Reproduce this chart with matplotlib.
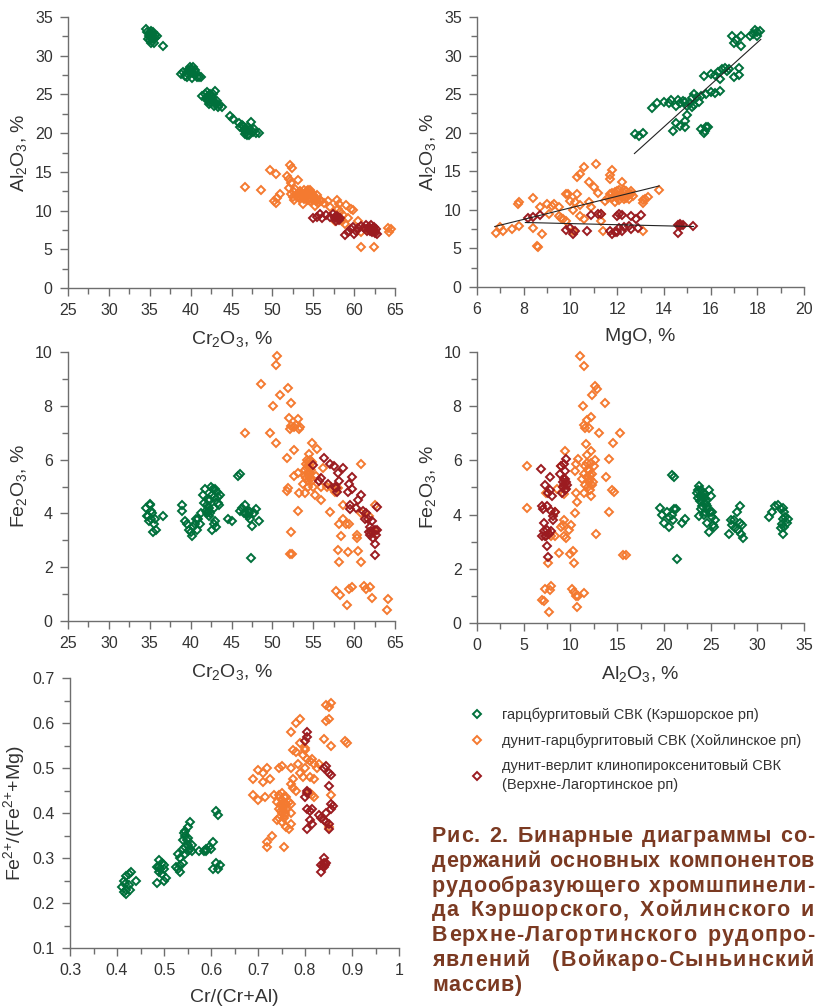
import matplotlib
matplotlib.use('Agg')
import matplotlib.pyplot as plt
from matplotlib.ticker import MultipleLocator, FuncFormatter

plt.rcParams['font.family'] = ['Liberation Sans', 'DejaVu Sans']
plt.rcParams['mathtext.fontset'] = 'custom'
plt.rcParams['mathtext.rm'] = 'Liberation Sans'
plt.rcParams['mathtext.it'] = 'Liberation Sans:italic'
plt.rcParams['mathtext.bf'] = 'Liberation Sans:bold'
plt.rcParams['mathtext.default'] = 'regular'

GREEN = '#00703b'
ORANGE = '#f47a30'
RED = '#9b1b20'
TXT = '#333333'
AX = '#6e6e6e'
CAP = '#7b3a22'

# ---- panel 1: Cr2O3 vs Al2O3 ----
cr_al_green = [(34.5, 33.4), (34.7, 33.0), (34.9, 32.6), (35.0, 32.9), (35.1, 33.2), (35.2, 32.4),
               (35.3, 32.8), (35.4, 32.1), (35.0, 32.0), (35.2, 31.7), (35.5, 31.6), (35.6, 32.3),
               (35.7, 32.7), (35.9, 32.5), (34.8, 32.2), (35.4, 33.1), (36.6, 31.2), (35.1, 32.6),
               (38.8, 27.7), (39.1, 27.9), (39.3, 27.4), (39.5, 27.8), (39.7, 28.2), (39.9, 28.5),
               (40.0, 27.9), (40.1, 28.3), (40.2, 27.1), (40.4, 27.6), (40.5, 28.1), (40.7, 27.8),
               (40.8, 27.3), (41.0, 27.2), (41.3, 27.2), (39.6, 27.2), (40.3, 28.5), (40.0, 28.2),
               (41.4, 24.8), (41.7, 25.0), (41.9, 24.6), (42.0, 25.3), (42.1, 24.2), (42.3, 24.9),
               (42.4, 24.4), (42.5, 23.9), (42.6, 24.7), (42.8, 23.5), (42.9, 24.2), (43.0, 25.4),
               (43.1, 23.7), (43.3, 23.4), (43.5, 23.6), (43.8, 23.4), (42.2, 23.8), (42.7, 25.1),
               (43.2, 24.1), (42.0, 24.5), (42.4, 25.0), (42.6, 24.1), (44.8, 22.2), (45.2, 21.8),
               (45.9, 21.3), (46.1, 20.8), (46.3, 21.0), (46.5, 20.4), (46.6, 19.9), (46.8, 20.2),
               (46.9, 19.7), (47.0, 20.8), (47.2, 20.4), (47.4, 21.4), (47.6, 20.1), (47.8, 20.5),
               (48.0, 20.0), (48.4, 20.0), (46.4, 20.9), (47.1, 19.8), (46.7, 20.6)]
cr_al_orange = [(46.7, 13.1), (48.6, 12.6), (49.7, 15.2), (50.4, 14.7), (50.2, 11.3), (50.5, 11.0),
                (50.9, 12.2), (50.6, 11.6), (51.8, 14.5), (52.0, 14.1), (52.1, 15.9), (52.4, 15.5),
                (52.3, 13.6), (53.1, 14.0), (52.0, 12.9), (52.3, 12.2), (52.5, 11.7), (52.6, 12.4),
                (52.9, 11.9), (53.1, 12.3), (53.3, 11.6), (53.5, 12.0), (53.7, 10.8), (53.8, 11.8),
                (54.0, 12.1), (54.2, 12.5), (54.4, 12.2), (54.5, 11.6), (54.7, 12.0), (54.9, 11.5),
                (55.1, 11.8), (55.3, 11.2), (55.2, 10.6), (55.6, 11.0), (55.8, 11.4), (56.0, 11.2),
                (56.3, 11.0), (54.3, 11.4), (53.9, 12.6), (54.6, 12.6), (55.4, 12.0), (52.7, 11.4),
                (53.6, 12.3), (54.1, 11.9), (54.4, 12.6), (54.8, 12.3), (55.0, 12.0), (53.4, 12.5),
                (53.9, 11.5), (54.6, 11.2), (55.5, 11.5), (52.8, 12.8), (53.2, 11.9), (54.2, 11.7),
                (57.0, 10.5), (57.9, 11.4), (58.0, 10.2), (58.3, 9.8), (58.5, 8.6), (58.7, 9.4),
                (59.0, 10.7), (59.3, 9.0), (59.6, 10.2), (59.9, 10.1), (58.2, 10.8), (60.5, 8.6),
                (60.9, 7.2), (61.5, 7.6), (60.9, 5.3), (62.4, 5.3), (64.2, 7.7), (64.5, 7.6),
                (64.3, 7.2), (57.6, 8.6), (58.9, 8.3), (56.8, 11.2)]
cr_al_red = [(55.0, 9.0), (55.5, 9.2), (55.8, 9.5), (56.1, 9.0), (56.6, 9.4), (57.0, 9.2),
             (57.4, 9.5), (57.7, 9.0), (57.9, 9.3), (58.1, 8.8), (57.8, 8.7), (58.3, 9.1),
             (57.6, 9.2), (58.0, 9.0), (58.9, 6.8), (59.3, 7.2), (59.6, 7.6), (59.9, 7.9),
             (60.2, 7.4), (60.5, 7.8), (60.9, 8.0), (61.2, 7.7), (61.5, 8.2), (61.8, 7.9),
             (62.0, 7.6), (62.2, 7.2), (62.4, 7.9), (62.6, 7.4), (62.8, 7.0), (62.7, 7.6),
             (61.6, 7.3), (62.1, 8.1), (60.0, 7.0), (61.9, 7.4), (62.3, 7.7), (62.5, 7.1)]

# ---- panel 2: MgO vs Al2O3 ----
mg_al_green = [(12.75, 19.8), (12.95, 19.6), (13.1, 20.0), (13.5, 23.2), (13.7, 23.8), (14.0, 24.0),
               (14.2, 23.8), (14.3, 24.2), (14.5, 23.5), (14.6, 24.3), (14.7, 23.9), (14.8, 24.1),
               (15.0, 23.5), (15.1, 23.8), (15.2, 24.5), (15.3, 25.0), (15.5, 24.0), (15.6, 24.8),
               (15.8, 25.0), (16.0, 25.3), (16.2, 25.2), (16.4, 25.4), (15.7, 27.3), (16.0, 27.6),
               (16.2, 27.5), (16.3, 27.9), (16.5, 28.3), (16.7, 28.0), (16.8, 28.2), (16.4, 27.0),
               (17.0, 27.2), (17.2, 28.4), (17.2, 27.5), (16.9, 32.5), (17.0, 31.6), (17.1, 32.0),
               (17.3, 32.6), (17.3, 31.3), (17.8, 32.8), (17.9, 33.3), (18.0, 33.0), (18.1, 33.2),
               (17.7, 32.6), (18.0, 32.5), (14.5, 21.3), (14.7, 20.9), (14.9, 21.5), (15.0, 22.3),
               (14.9, 20.8), (14.4, 20.2), (15.6, 20.5), (15.7, 19.9), (15.8, 20.7), (15.75, 20.2),
               (15.9, 20.8), (15.2, 23.3), (15.3, 23.6), (14.9, 24.0), (15.4, 24.6), (16.6, 28.4)]
mg_al_orange = [(6.8, 7.0), (7.0, 7.8), (7.1, 7.3), (7.5, 7.5), (7.8, 7.9), (7.75, 10.7), (7.8, 11.0),
                (8.4, 11.5), (8.4, 7.7), (8.6, 5.2), (8.55, 5.3), (8.8, 6.9), (8.7, 10.4), (9.0, 10.8),
                (9.1, 9.4), (9.2, 10.5), (9.3, 10.7), (9.5, 10.4), (9.5, 9.2), (9.6, 9.0), (9.7, 8.8),
                (9.8, 8.5), (9.8, 12.1), (9.9, 12.0), (10.0, 11.2), (10.1, 10.0), (10.2, 11.0),
                (10.3, 12.1), (10.3, 14.3), (10.4, 14.6), (10.6, 15.5), (10.4, 9.2), (10.6, 8.8),
                (10.8, 11.0), (10.9, 10.4), (10.8, 13.6), (11.0, 13.0), (11.1, 15.9), (11.2, 12.2),
                (11.3, 9.4), (11.3, 8.6), (11.4, 7.3), (11.5, 11.1), (11.6, 11.5), (11.7, 14.0),
                (11.8, 15.2), (11.7, 14.5), (12.2, 13.6), (11.7, 12.0), (11.8, 11.6), (11.9, 12.3),
                (12.0, 11.8), (12.0, 12.5), (12.1, 11.3), (12.2, 12.0), (12.3, 12.2), (12.4, 11.6),
                (12.5, 12.0), (12.6, 12.1), (12.7, 11.8), (12.3, 11.4), (11.9, 11.0), (12.1, 12.6),
                (12.4, 12.4), (11.8, 12.2), (12.0, 11.5), (12.2, 11.7), (12.5, 11.4), (12.6, 12.4),
                (12.3, 12.6), (13.1, 11.3), (13.1, 10.9), (13.2, 11.4), (13.3, 11.7), (13.1, 7.2),
                (13.8, 12.6), (10.1, 7.2), (10.4, 10.6)]
mg_al_red = [(8.2, 8.9), (8.4, 9.1), (8.7, 9.3), (9.8, 7.4), (10.0, 7.6), (10.1, 6.9), (10.2, 7.2),
             (10.7, 7.2), (10.9, 9.3), (11.2, 9.5), (11.3, 9.4), (11.7, 7.2), (11.8, 6.9), (12.0, 7.1),
             (12.1, 7.6), (12.0, 9.2), (12.1, 9.4), (12.2, 9.3), (12.3, 7.8), (12.5, 7.9), (12.6, 7.5),
             (12.6, 9.2), (12.8, 8.8), (12.9, 7.6), (13.0, 9.3), (14.6, 7.0), (14.6, 8.0), (14.7, 8.2),
             (14.8, 8.1), (14.7, 7.9), (15.25, 7.9), (11.9, 7.1), (12.2, 7.3)]
# trend lines (x0, x1), (y0, y1)
fit_green = ([12.74, 18.15], [17.3, 32.1])
fit_orange = ([6.76, 13.8], [7.84, 13.1])
fit_red = ([8.07, 15.27], [8.36, 7.84])

# ---- panel 3: Cr2O3 vs Fe2O3 ----
cr_fe_green = [(34.6, 4.2), (34.8, 3.9), (35.0, 4.35), (35.1, 4.1), (35.2, 3.8), (34.9, 3.7), (35.3, 4.0),
               (35.5, 3.6), (35.4, 3.3), (35.8, 3.4), (35.6, 3.8), (36.6, 3.9), (35.0, 4.3), (34.7, 3.9),
               (38.9, 4.1), (39.0, 4.3), (39.3, 3.7), (39.6, 3.6), (39.8, 3.4), (40.0, 3.3), (40.2, 3.15),
               (40.3, 3.5), (40.5, 3.6), (40.7, 3.8), (40.9, 3.8), (41.1, 3.6), (41.3, 4.0), (41.5, 4.7),
               (41.7, 4.9), (41.6, 4.4), (40.8, 3.4), (42.0, 4.0), (42.2, 4.2), (42.4, 4.5), (42.5, 5.0),
               (42.6, 4.7), (42.7, 4.9), (42.8, 4.6), (43.0, 4.9), (43.2, 4.8), (43.4, 4.6), (43.5, 4.3),
               (43.6, 4.7), (42.0, 4.3), (42.3, 4.1), (42.6, 3.4), (42.9, 3.6), (43.0, 3.7), (43.1, 3.5),
               (42.1, 4.5), (41.9, 4.1), (43.3, 4.4), (42.4, 4.0), (42.8, 4.2), (42.2, 3.9),
               (44.6, 3.8), (45.0, 3.7), (45.8, 5.4), (46.1, 5.45),
               (46.0, 4.1), (46.3, 4.2), (46.7, 4.3), (46.8, 4.0), (47.0, 3.9), (47.2, 4.1), (47.3, 3.8),
               (47.5, 3.55), (47.8, 4.0), (48.0, 4.15), (48.4, 3.7), (47.4, 2.35), (46.5, 4.0), (47.1, 4.0)]
cr_fe_orange = [(46.7, 7.0), (48.6, 8.8), (49.7, 7.0), (50.1, 8.0), (50.4, 6.6), (50.5, 9.5), (50.6, 9.85),
                (50.9, 8.4), (51.9, 8.65), (52.0, 7.55), (52.3, 8.1), (52.1, 7.15), (52.3, 7.25), (52.6, 7.2),
                (52.9, 7.3), (53.1, 7.5), (53.2, 7.15), (53.4, 7.2), (52.6, 6.35), (51.8, 6.05), (51.8, 4.85),
                (51.9, 4.95), (52.7, 5.4), (53.1, 5.5), (53.3, 4.75), (53.1, 4.1), (52.3, 3.3), (52.2, 2.5),
                (52.4, 2.5), (53.7, 5.1), (54.0, 5.6), (54.2, 6.0), (54.5, 5.8), (54.3, 5.2), (54.6, 5.5),
                (54.8, 5.9), (54.1, 5.3), (54.4, 5.0), (54.7, 5.3), (54.2, 5.7), (54.8, 6.6), (54.5, 6.2),
                (54.3, 5.5), (54.6, 5.7), (54.4, 5.9), (54.9, 5.2), (54.1, 5.85), (54.5, 5.35), (54.7, 5.6),
                (54.3, 5.75), (54.0, 5.4), (54.6, 6.0), (55.5, 6.4), (55.3, 5.4), (54.0, 4.75),
                (55.0, 5.0), (55.2, 4.7), (55.9, 5.0), (56.2, 5.7), (56.0, 4.5), (56.7, 5.0), (57.0, 4.05),
                (57.2, 5.0), (57.7, 4.8), (58.0, 4.95), (58.2, 3.6), (58.4, 3.15), (58.6, 3.8), (58.7, 4.3),
                (59.0, 3.6), (59.4, 3.6), (58.0, 2.65), (58.1, 2.2), (59.2, 2.55), (60.3, 3.2), (60.4, 3.1),
                (60.5, 2.6), (60.9, 2.2), (60.9, 4.0), (60.8, 5.85), (57.8, 1.1), (58.3, 0.95), (59.1, 0.6),
                (59.4, 1.2), (59.7, 1.25), (61.2, 1.3), (61.5, 1.2), (61.9, 1.25), (62.2, 0.85), (64.0, 0.4),
                (64.2, 0.8), (61.8, 3.9), (62.4, 3.3), (62.6, 4.3)]
cr_fe_red = [(55.0, 5.8), (55.7, 5.2), (55.9, 5.3), (56.3, 6.05), (56.8, 5.1), (57.0, 5.85), (57.5, 5.75),
             (57.7, 5.0), (58.0, 5.5), (57.9, 4.8), (58.1, 5.2), (58.7, 5.7), (59.2, 4.8), (59.4, 5.1),
             (59.5, 4.3), (59.7, 5.35), (59.8, 4.9), (59.5, 4.15), (60.2, 4.2), (60.5, 4.5), (60.9, 4.7),
             (61.1, 4.1), (61.3, 3.8), (61.5, 4.0), (61.8, 3.3), (62.0, 3.2), (62.0, 3.5), (62.2, 3.7),
             (62.5, 3.4), (62.7, 3.2), (62.3, 3.1), (62.5, 2.85), (62.6, 2.45), (62.8, 4.25), (61.7, 3.8),
             (62.8, 3.4), (57.8, 4.95), (62.1, 3.35)]

# ---- panel 4: Al2O3 vs Fe2O3 ----
al_fe_green = [(19.6, 4.25), (19.8, 4.0), (20.0, 3.7), (20.3, 4.1), (20.5, 3.9), (20.6, 3.55), (20.9, 5.45),
               (21.1, 5.4), (20.9, 4.0), (21.1, 4.2), (21.3, 4.2), (21.0, 3.8), (21.9, 3.7), (22.3, 3.85),
               (21.4, 2.35), (23.5, 4.8), (23.7, 4.9), (23.8, 5.05), (24.0, 4.9), (24.2, 4.8), (24.3, 4.6),
               (23.9, 4.5), (24.1, 4.3), (24.5, 4.4), (24.4, 4.1), (24.7, 4.2), (24.9, 4.1), (25.1, 3.9),
               (25.0, 4.7), (24.8, 4.9), (25.2, 4.1), (25.3, 3.6), (25.5, 3.8), (25.4, 3.55), (24.8, 3.35),
               (24.6, 3.7), (23.8, 3.95), (24.2, 4.7), (24.5, 4.5), (23.9, 4.7), (24.0, 4.2), (24.3, 4.0),
               (23.7, 4.6), (24.1, 4.55), (24.6, 4.3), (24.4, 4.75),
               (27.0, 3.3), (27.2, 3.8), (27.3, 3.6), (27.5, 3.8), (27.6, 3.5), (27.8, 4.1), (28.1, 4.3),
               (27.9, 3.45), (28.2, 3.7), (28.3, 3.3), (28.5, 3.15), (28.4, 3.6), (31.3, 3.9), (31.6, 4.1),
               (31.9, 4.3), (32.2, 4.35), (32.5, 4.2), (32.8, 4.25), (32.9, 4.1), (32.7, 3.85), (33.0, 3.9),
               (33.2, 3.7), (33.3, 3.85), (32.5, 3.5), (32.7, 3.3), (32.9, 3.55), (32.6, 3.65)]
al_fe_orange = [(5.3, 5.8), (5.3, 4.25), (7.0, 0.85), (7.2, 0.8), (7.3, 1.25), (7.8, 1.2), (7.9, 1.35),
                (7.7, 0.4), (7.6, 2.2), (7.4, 4.8), (7.9, 3.2), (8.3, 4.1), (8.6, 4.95), (8.8, 2.6),
                (8.4, 3.2), (9.0, 3.55), (9.2, 3.6), (9.3, 3.8), (9.5, 3.15), (9.3, 3.2), (9.4, 6.35),
                (9.0, 5.8), (9.3, 4.75), (9.8, 3.45), (10.1, 3.6), (10.0, 2.55), (10.3, 2.65), (10.2, 1.25),
                (10.4, 1.15), (10.6, 1.0), (10.8, 1.0), (10.7, 0.6), (11.4, 1.1), (10.4, 2.2), (10.5, 4.05),
                (10.7, 4.45), (10.6, 4.8), (10.5, 5.6), (10.8, 6.05), (10.6, 5.85), (11.0, 9.85), (11.5, 9.5),
                (11.3, 8.0), (11.5, 7.3), (11.8, 7.5), (11.6, 7.2), (12.0, 7.2), (12.2, 7.6), (12.3, 8.4),
                (12.6, 8.75), (12.8, 8.65), (13.1, 7.0), (13.7, 8.1), (11.7, 6.6), (11.8, 6.2), (12.2, 6.35),
                (11.2, 5.3), (11.5, 5.5), (11.6, 5.8), (11.8, 5.9), (12.0, 5.6), (12.1, 5.3), (12.3, 5.5),
                (12.5, 5.8), (11.9, 5.0), (12.1, 4.9), (12.2, 4.7), (11.4, 4.8), (11.6, 5.1), (12.6, 6.0),
                (11.8, 5.4), (12.0, 5.2), (12.2, 5.9), (12.4, 5.2), (11.9, 5.7), (12.1, 5.45), (12.3, 5.1),
                (13.8, 5.4), (14.1, 6.05), (14.6, 6.65),
                (15.3, 7.0), (14.5, 4.9), (14.7, 4.85), (14.1, 4.1), (12.7, 3.3), (15.6, 2.5), (15.9, 2.5)]
al_fe_red = [(6.9, 5.7), (7.3, 5.1), (7.8, 5.4), (7.1, 4.2), (7.0, 3.2), (7.2, 3.7), (7.3, 3.2), (7.5, 2.85),
             (7.6, 2.45), (7.5, 4.3), (7.5, 3.45), (7.7, 3.3), (7.9, 3.4), (7.6, 4.8), (7.8, 4.9), (8.0, 4.7),
             (7.9, 4.15), (8.1, 3.8), (8.3, 4.1), (8.1, 3.95), (9.0, 5.8), (9.2, 5.0), (9.3, 5.3), (9.4, 4.9),
             (9.5, 5.2), (9.6, 5.1), (9.3, 5.85), (9.5, 6.05), (8.9, 5.5), (9.4, 5.6), (9.1, 4.8), (7.4, 3.2),
             (7.0, 4.3), (7.2, 3.4), (9.3, 5.1), (9.5, 4.95), (9.4, 5.3), (9.2, 5.2)]

# ---- panel 5: Cr/(Cr+Al) vs Fe2+/(Fe2+ + Mg) ----
crn_fen_green = [(0.41, 0.235), (0.415, 0.225), (0.42, 0.23), (0.425, 0.24), (0.42, 0.26), (0.425, 0.265),
                 (0.43, 0.27), (0.415, 0.25), (0.44, 0.25), (0.42, 0.22), (0.428, 0.228), (0.418, 0.242),
                 (0.485, 0.245), (0.49, 0.27), (0.49, 0.28), (0.495, 0.29), (0.49, 0.295), (0.5, 0.275),
                 (0.5, 0.25), (0.505, 0.255), (0.495, 0.265), (0.485, 0.28), (0.5, 0.285), (0.492, 0.275),
                 (0.525, 0.28), (0.53, 0.31), (0.53, 0.275), (0.535, 0.27), (0.535, 0.3), (0.54, 0.32),
                 (0.54, 0.34), (0.545, 0.35), (0.545, 0.36), (0.55, 0.37), (0.55, 0.33), (0.555, 0.38),
                 (0.545, 0.31), (0.55, 0.315), (0.555, 0.32), (0.56, 0.33), (0.54, 0.29), (0.535, 0.285),
                 (0.55, 0.345), (0.545, 0.325), (0.56, 0.315), (0.542, 0.355), (0.548, 0.34),
                 (0.575, 0.315), (0.585, 0.315), (0.59, 0.32), (0.595, 0.325), (0.605, 0.335), (0.61, 0.29),
                 (0.605, 0.275), (0.615, 0.275), (0.62, 0.285), (0.61, 0.405), (0.615, 0.395), (0.59, 0.315),
                 (0.6, 0.32)]
crn_fen_orange = [(0.69, 0.44), (0.7, 0.43), (0.715, 0.435), (0.69, 0.475), (0.7, 0.495), (0.71, 0.47),
                  (0.71, 0.49), (0.72, 0.5), (0.725, 0.475), (0.72, 0.335), (0.72, 0.325), (0.73, 0.35),
                  (0.735, 0.44), (0.74, 0.425), (0.745, 0.5), (0.75, 0.505), (0.745, 0.44), (0.75, 0.445),
                  (0.745, 0.41), (0.75, 0.4), (0.755, 0.42), (0.755, 0.39), (0.76, 0.41), (0.745, 0.39),
                  (0.74, 0.385), (0.75, 0.38), (0.76, 0.435), (0.765, 0.425), (0.77, 0.4), (0.752, 0.43),
                  (0.758, 0.4), (0.748, 0.42), (0.753, 0.41), (0.757, 0.395), (0.75, 0.415), (0.755, 0.435),
                  (0.76, 0.42), (0.748, 0.405), (0.755, 0.325), (0.76, 0.37), (0.765, 0.365), (0.77, 0.375),
                  (0.77, 0.42), (0.77, 0.465), (0.775, 0.455), (0.78, 0.45), (0.77, 0.5), (0.775, 0.54),
                  (0.78, 0.535), (0.77, 0.58), (0.78, 0.6), (0.79, 0.61), (0.785, 0.51), (0.79, 0.49),
                  (0.795, 0.48), (0.8, 0.5), (0.795, 0.53), (0.8, 0.54), (0.805, 0.52), (0.8, 0.545),
                  (0.79, 0.555), (0.81, 0.515), (0.815, 0.52), (0.82, 0.51), (0.83, 0.51), (0.825, 0.5),
                  (0.81, 0.48), (0.82, 0.475), (0.81, 0.445), (0.815, 0.44), (0.82, 0.435), (0.84, 0.565),
                  (0.845, 0.605), (0.85, 0.61), (0.845, 0.64), (0.855, 0.645), (0.85, 0.635), (0.855, 0.55),
                  (0.855, 0.44), (0.85, 0.37), (0.885, 0.56), (0.89, 0.555), (0.775, 0.475)]
crn_fen_red = [(0.8, 0.56), (0.805, 0.58), (0.805, 0.57), (0.805, 0.445), (0.8, 0.435), (0.805, 0.45),
               (0.805, 0.41), (0.81, 0.405), (0.815, 0.41), (0.81, 0.385), (0.815, 0.375), (0.805, 0.365),
               (0.835, 0.39), (0.84, 0.385), (0.845, 0.38), (0.85, 0.375), (0.845, 0.4), (0.84, 0.5),
               (0.845, 0.505), (0.85, 0.49), (0.855, 0.485), (0.85, 0.46), (0.855, 0.42), (0.86, 0.415),
               (0.855, 0.41), (0.835, 0.285), (0.84, 0.28), (0.84, 0.29), (0.845, 0.29), (0.84, 0.3),
               (0.835, 0.27), (0.838, 0.283), (0.843, 0.285), (0.85, 0.365), (0.83, 0.395)]

legend_labels = ['гарцбургитовый СВК (Кэршорское рп)',
                 'дунит-гарцбургитовый СВК (Хойлинское рп)',
                 'дунит-верлит клинопироксенитовый СВК\n(Верхне-Лагортинское рп)']

caption_lines = ['Рис. 2. Бинарные диаграммы со-',
                 'держаний основных компонентов',
                 'рудообразующего хромшпинели-',
                 'да Кэршорского, Хойлинского и',
                 'Верхне-Лагортинского рудопро-',
                 'явлений  (Войкаро-Сыньинский',
                 'массив)']

W, H = 815, 1007
fig = plt.figure(figsize=(W / 100, H / 100), dpi=100)
fig.patch.set_facecolor('white')


def make_axes(left, right, top, bottom):
    return fig.add_axes([left / W, 1 - bottom / H, (right - left) / W, (bottom - top) / H])


def style(ax, xlim, ylim, xmaj, ymaj, xlabel, ylabel):
    ax.set_xlim(*xlim)
    ax.set_ylim(*ylim)
    ax.xaxis.set_major_locator(MultipleLocator(xmaj))
    ax.xaxis.set_minor_locator(MultipleLocator(xmaj / 2))
    ax.yaxis.set_major_locator(MultipleLocator(ymaj))
    ax.yaxis.set_minor_locator(MultipleLocator(ymaj / 2))
    fmt = FuncFormatter(lambda v, p: '{:g}'.format(round(v, 3)))
    ax.xaxis.set_major_formatter(fmt)
    ax.yaxis.set_major_formatter(fmt)
    for s in ['top', 'right']:
        ax.spines[s].set_visible(False)
    for s in ['left', 'bottom']:
        ax.spines[s].set_color(AX)
        ax.spines[s].set_linewidth(1.0)
    ax.tick_params(which='major', direction='out', length=6, width=1.0, color=AX,
                   labelsize=11.5, labelcolor=TXT, pad=5)
    ax.tick_params(which='minor', direction='out', length=4, width=1.0, color=AX)
    ax.set_xlabel(xlabel, fontsize=14, color=TXT, labelpad=8)
    ax.set_ylabel(ylabel, fontsize=14, color=TXT, labelpad=4)
    ax.set_facecolor('none')


def scatter(ax, pts, color):
    xs = [p[0] for p in pts]
    ys = [p[1] for p in pts]
    return ax.plot(xs, ys, ls='none', marker='D', ms=4.3, mfc='none', mec=color,
                   mew=1.4, clip_on=False)[0]


al_lbl = 'Al$_2$O$_3$, %'
cr_lbl = 'Cr$_2$O$_3$, %'
fe_lbl = 'Fe$_2$O$_3$, %'

ax1 = make_axes(68, 395, 17, 288)
style(ax1, (25, 65), (0, 35), 5, 5, cr_lbl, al_lbl)
for pts, c in [(cr_al_green, GREEN), (cr_al_orange, ORANGE), (cr_al_red, RED)]:
    scatter(ax1, pts, c)

ax2 = make_axes(477, 804, 17, 287)
style(ax2, (6, 20), (0, 35), 2, 5, 'MgO, %', al_lbl)
for pts, c in [(mg_al_green, GREEN), (mg_al_orange, ORANGE), (mg_al_red, RED)]:
    scatter(ax2, pts, c)
for fx, fy in [fit_green, fit_orange, fit_red]:
    ax2.plot(fx, fy, color='#222222', lw=0.8)

ax3 = make_axes(68, 395, 352, 621)
style(ax3, (25, 65), (0, 10), 5, 2, cr_lbl, fe_lbl)
for pts, c in [(cr_fe_green, GREEN), (cr_fe_orange, ORANGE), (cr_fe_red, RED)]:
    scatter(ax3, pts, c)

ax4 = make_axes(477, 804, 352, 623)
style(ax4, (0, 35), (0, 10), 5, 2, al_lbl, fe_lbl)
for pts, c in [(al_fe_green, GREEN), (al_fe_orange, ORANGE), (al_fe_red, RED)]:
    scatter(ax4, pts, c)

ax5 = make_axes(70, 399, 678, 948)
style(ax5, (0.3, 1.0), (0.1, 0.7), 0.1, 0.1, 'Cr/(Cr+Al)', 'Fe$^{2{+}}$/(Fe$^{2{+}}$+Mg)')
handles = []
for pts, c in [(crn_fen_green, GREEN), (crn_fen_orange, ORANGE), (crn_fen_red, RED)]:
    handles.append(scatter(ax5, pts, c))

leg = fig.legend(handles, legend_labels, loc='upper left',
                 bbox_to_anchor=(470 / W, 1 - 708 / H), frameon=False,
                 fontsize=10.5, handlelength=1.0, handletextpad=1.2,
                 labelspacing=0.75, borderpad=0, borderaxespad=0)
for t in leg.get_texts():
    t.set_color(TXT)
    t.set_linespacing(1.45)

# caption, justified like the printed block
renderer = fig.canvas.get_renderer()
cap_size = 15.5
cap_left, cap_right = 432, 814
base0, step = 842, 24.8


def text_width(s):
    t = fig.text(0, 0, s, fontsize=cap_size, fontweight='bold')
    w = t.get_window_extent(renderer).width
    t.remove()
    return w


ref = text_width('нн')
for i, line in enumerate(caption_lines):
    widths = [text_width('н' + ch + 'н') - ref for ch in line]
    natural = sum(widths)
    gaps = len(line) - 1
    last = i == len(caption_lines) - 1
    if not last:
        slack = (cap_right - cap_left) - natural
        n_sp = line.count(' ')
        weight = gaps + 3 * n_sp
        unit = slack / weight if weight else 0
    else:
        unit = 0.6
    x = cap_left
    y = 1 - (base0 + i * step) / H
    for k, ch in enumerate(line):
        if ch != ' ':
            fig.text(x / W, y, ch, fontsize=cap_size, fontweight='bold', color=CAP,
                     va='baseline', ha='left')
        x += widths[k] + unit
        if ch == ' ' and not last:
            x += 3 * unit

fig.savefig('out.png', dpi=100, facecolor='white')
